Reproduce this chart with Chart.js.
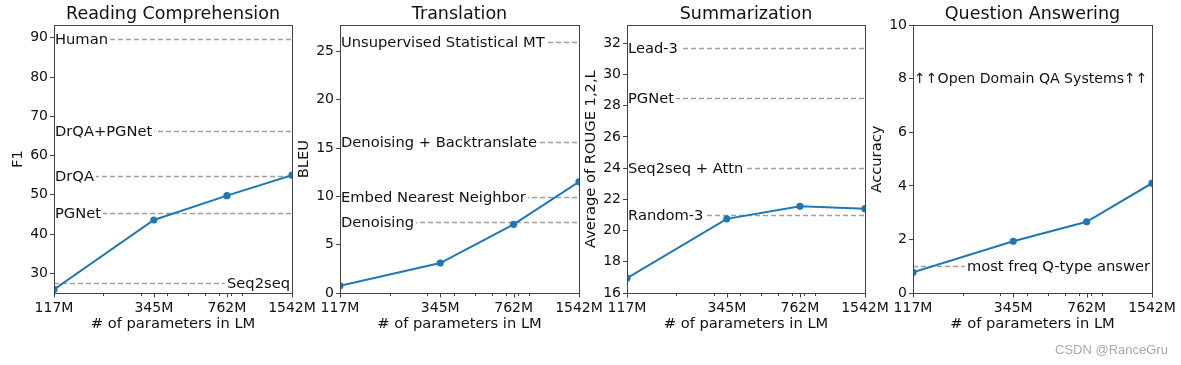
<!DOCTYPE html>
<html>
<head>
<meta charset="utf-8">
<script src="https://cdn.jsdelivr.net/npm/chart.js@4.4.1/dist/chart.umd.min.js"></script>
<style>
  body { margin: 0; background: #fff; width: 1181px; height: 365px; overflow: hidden; position: relative; }
  canvas { position: absolute; left: 0; top: 0; }
  #mark { position: absolute; left: 1055px; top: 342px; font: 13px "Liberation Sans", Arial, sans-serif; color: #aaa; }
</style>
</head>
<body>
<canvas id="rc" width="1181" height="365"></canvas>
<canvas id="mt" width="1181" height="365"></canvas>
<canvas id="sum" width="1181" height="365"></canvas>
<canvas id="qa" width="1181" height="365"></canvas>
<div id="mark">CSDN @RanceGru</div>
<script>
// model sizes (x axis, log scale)
const paramCounts = [117, 345, 762, 1542];
const paramLabels = ['117M', '345M', '762M', '1542M'];
const minorTicks = [200, 300, 400, 500, 600, 700, 800, 900];

// reading comprehension (F1)
const rcScores = [25.9, 43.6, 49.8, 55.0];
const rcBaselineNames = ['Human', 'DrQA+PGNet', 'DrQA', 'PGNet', 'Seq2seq'];
const rcBaselineValues = [89.8, 66.2, 54.7, 45.4, 27.5];
const rcTicks = [30, 40, 50, 60, 70, 80, 90];

// translation (BLEU)
const mtScores = [0.75, 3.1, 7.1, 11.5];
const mtBaselineNames = ['Unsupervised Statistical MT', 'Denoising + Backtranslate', 'Embed Nearest Neighbor', 'Denoising'];
const mtBaselineValues = [26.0, 15.6, 9.9, 7.3];
const mtTicks = [0, 5, 10, 15, 20, 25];

// summarization (avg ROUGE)
const sumScores = [16.95, 20.75, 21.55, 21.4];
const sumBaselineNames = ['Lead-3', 'PGNet', 'Seq2seq + Attn', 'Random-3'];
const sumBaselineValues = [31.7, 28.5, 24.0, 21.0];
const sumTicks = [16, 18, 20, 22, 24, 26, 28, 30, 32];

// question answering (accuracy)
const qaScores = [0.77, 1.93, 2.66, 4.1];
const qaBaselineNames = ['most freq Q-type answer'];
const qaBaselineValues = [1.0];
const qaTicks = [0, 2, 4, 6, 8, 10];
const qaNote = '↑↑Open Domain QA Systems↑↑';
const qaNoteValue = 8;

// labels that sit at the right end of their line
const rightLabels = ['Seq2seq', 'most freq Q-type answer'];

const FONT = '"DejaVu Sans", sans-serif';
const BLUE = '#1f77b4';

const baselinePlugin = {
    id: 'baselines',
    beforeDatasetsDraw(chart) {
        const cfg = chart.options.plugins.baselines;
        const { ctx, chartArea: a, scales: { y } } = chart;
        ctx.save();
        ctx.beginPath();
        ctx.rect(a.left, a.top, a.right - a.left, a.bottom - a.top);
        ctx.clip();
        ctx.font = '14.7px ' + FONT;
        ctx.textBaseline = 'middle';
        cfg.names.forEach((name, i) => {
            const py = Math.round(y.getPixelForValue(cfg.values[i])) + 0.5;
            ctx.strokeStyle = '#a0a0a0';
            ctx.lineWidth = 1.5;
            ctx.setLineDash([5, 3]);
            ctx.beginPath();
            ctx.moveTo(a.left, py);
            ctx.lineTo(a.right, py);
            ctx.stroke();
            const w = ctx.measureText(name).width;
            const tx = rightLabels.includes(name) ? a.right - 2 - w : a.left + 1;
            ctx.fillStyle = '#fff';
            ctx.fillRect(tx - 2, py - 9, w + 4, 18);
            ctx.fillStyle = '#111';
            ctx.fillText(name, tx, py + 1);
        });
        if (cfg.note) {
            // the arrows are wide in DejaVu, so this one is a touch smaller to fit the box
            ctx.font = '14.1px ' + FONT;
            ctx.fillStyle = '#111';
            ctx.fillText(cfg.note, a.left + 1, y.getPixelForValue(cfg.noteValue) + 1);
        }
        ctx.restore();
    },
    afterDraw(chart) {
        const { ctx, chartArea: a, scales: { x } } = chart;
        ctx.save();
        ctx.strokeStyle = '#444';
        ctx.lineWidth = 1;
        ctx.strokeRect(Math.round(a.left) + 0.5, Math.round(a.top) + 0.5,
            Math.round(a.right - a.left), Math.round(a.bottom - a.top));
        // x tick marks, short ones for the minor log ticks
        const b = Math.round(a.bottom) + 0.5;
        ctx.beginPath();
        paramCounts.forEach(v => {
            const px = Math.round(x.getPixelForValue(v)) + 0.5;
            ctx.moveTo(px, b); ctx.lineTo(px, b + 4);
        });
        minorTicks.forEach(v => {
            const px = Math.round(x.getPixelForValue(v)) + 0.5;
            ctx.moveTo(px, b); ctx.lineTo(px, b + 2.5);
        });
        ctx.stroke();
        ctx.restore();
    }
};

function makePanel(id, title, yTitle, scores, names, values, ticks, yMin, yMax, plotLeft, plotRight, note, noteValue) {
    const ctx = document.getElementById(id).getContext('2d');
    return new Chart(ctx, {
        type: 'line',
        data: {
            datasets: [{
                data: paramCounts.map((p, i) => ({ x: p, y: scores[i] })),
                borderColor: BLUE,
                backgroundColor: BLUE,
                borderWidth: 2,
                pointRadius: 3.6,
                pointBorderWidth: 0,
                pointBackgroundColor: BLUE,
                tension: 0,
                clip: 0
            }]
        },
        options: {
            responsive: false,
            animation: false,
            layout: { padding: { left: plotLeft - 45, right: 1181 - plotRight, top: 0, bottom: 32 } },
            plugins: {
                legend: { display: false },
                tooltip: { enabled: false },
                title: {
                    display: true, text: title, fullSize: false, color: '#111',
                    font: { family: FONT, size: 17.5, weight: 'normal', lineHeight: 1.1 },
                    padding: { top: 5, bottom: 1 }
                },
                baselines: { names: names, values: values, note: note, noteValue: noteValue }
            },
            scales: {
                x: {
                    type: 'logarithmic',
                    min: paramCounts[0],
                    max: paramCounts[paramCounts.length - 1],
                    afterBuildTicks: s => { s.ticks = paramCounts.concat(minorTicks).sort((a, b) => a - b).map(v => ({ value: v })); },
                    afterFit: s => { s.height = 40; s.paddingLeft = 0; s.paddingRight = 0; },
                    border: { display: false },
                    grid: { display: true, drawOnChartArea: false, drawTicks: true, tickLength: 4, tickColor: 'rgba(0,0,0,0)' },
                    ticks: {
                        autoSkip: false, maxRotation: 0, padding: 3, color: '#111',
                        font: { family: FONT, size: 14 },
                        callback: v => { const i = paramCounts.indexOf(v); return i >= 0 ? paramLabels[i] : ''; }
                    },
                    title: {
                        display: true, text: '# of parameters in LM', color: '#111',
                        font: { family: FONT, size: 14.7 }, padding: 0
                    }
                },
                y: {
                    type: 'linear',
                    min: yMin,
                    max: yMax,
                    afterBuildTicks: s => { s.ticks = ticks.map(v => ({ value: v })); },
                    afterFit: s => { s.width = 45; },
                    border: { display: false },
                    grid: { display: true, drawOnChartArea: false, drawTicks: true, tickLength: 4, tickColor: '#444' },
                    ticks: { padding: 2, color: '#111', font: { family: FONT, size: 14 } },
                    title: {
                        display: true, text: yTitle, color: '#111',
                        font: { family: FONT, size: 14.7 }, padding: 0
                    }
                }
            }
        },
        plugins: [baselinePlugin]
    });
}

makePanel('rc', 'Reading Comprehension', 'F1', rcScores, rcBaselineNames, rcBaselineValues, rcTicks, 25, 93.2, 54, 292);
makePanel('mt', 'Translation', 'BLEU', mtScores, mtBaselineNames, mtBaselineValues, mtTicks, 0, 27.7, 340, 579);
makePanel('sum', 'Summarization', 'Average of ROUGE 1,2,L', sumScores, sumBaselineNames, sumBaselineValues, sumTicks, 16, 33.15, 627, 865);
makePanel('qa', 'Question Answering', 'Accuracy', qaScores, qaBaselineNames, qaBaselineValues, qaTicks, 0, 10, 913, 1152, qaNote, qaNoteValue);
</script>
</body>
</html>
